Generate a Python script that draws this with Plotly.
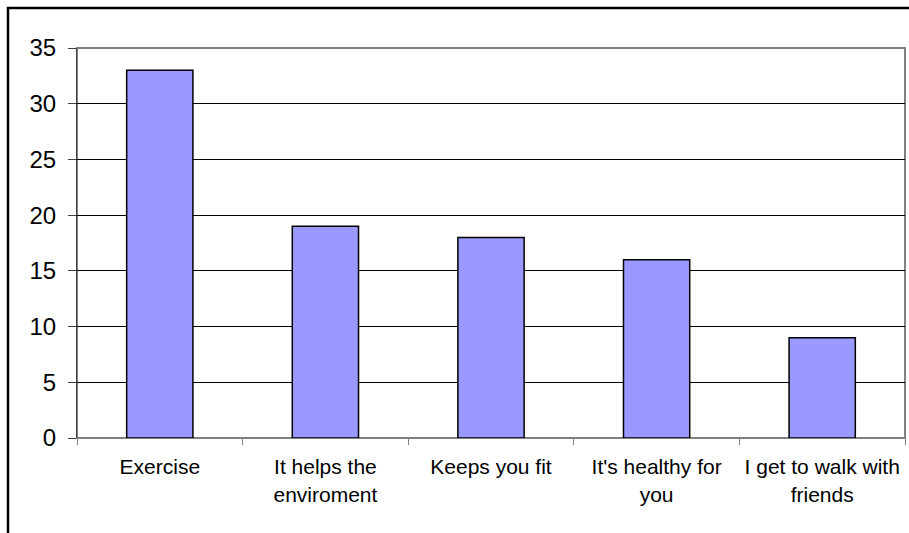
import plotly.graph_objects as go

categories = ["Exercise", "It helps the<br>enviroment", "Keeps you fit",
              "It's healthy for<br>you", "I get to walk with<br>friends"]
values = [33, 19, 18, 16, 9]
y_ticks = [0, 5, 10, 15, 20, 25, 30, 35]

FONT = "Liberation Sans, Arial, sans-serif"

fig = go.Figure(go.Bar(
    x=categories, y=values,
    marker=dict(color="#9999FF", line=dict(color="#000000", width=1.5)),
    hoverinfo="skip",
))

W, H = 909, 533
L, R, T, B = 77, 4, 48, 95
pw, ph = W - L - R, H - T - B
fx0 = (8 - L) / pw
fy1 = (H - B - 8) / ph

fig.update_layout(
    width=W, height=H,
    margin=dict(l=L, r=R, t=T, b=B, pad=0),
    paper_bgcolor="white", plot_bgcolor="white",
    bargap=0.6,
    showlegend=False,
    font=dict(family=FONT, color="#000000"),
    xaxis=dict(
        type="category",
        showline=True, linecolor="#808080", linewidth=1,
        ticks="outside", ticklen=6, tickcolor="#808080", tickson="boundaries",
        tickfont=dict(size=21, family=FONT, color="#000000"),
        showgrid=False, ticklabelstandoff=10,
    ),
    yaxis=dict(
        range=[0, 35], tickvals=y_ticks,
        showline=True, linecolor="#404040", linewidth=1,
        ticks="outside", ticklen=8, tickcolor="#404040",
        tickfont=dict(size=24, family=FONT, color="#000000"),
        showgrid=True, gridcolor="#000000", gridwidth=1,
        zeroline=False, ticklabelstandoff=7,
    ),
    shapes=[
        dict(type="rect", xref="paper", yref="paper", x0=0, x1=1, y0=0, y1=1,
             line=dict(color="#808080", width=2), layer="below"),
        dict(type="rect", xref="paper", yref="paper", x0=fx0, x1=1.2, y0=-0.5, y1=fy1,
             line=dict(color="#000000", width=2.5), layer="above"),
    ],
)

fig.write_html("out.html")
